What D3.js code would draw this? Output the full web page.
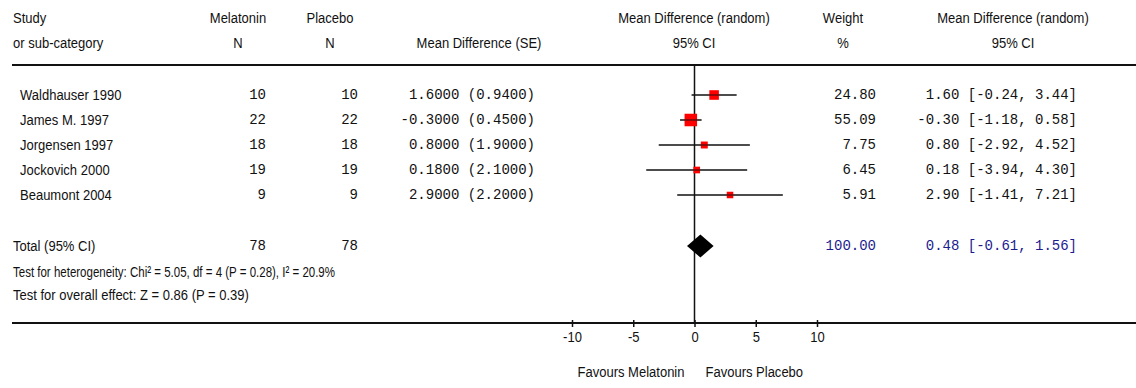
<!DOCTYPE html>
<html>
<head>
<meta charset="utf-8">
<script src="https://cdn.jsdelivr.net/npm/d3@7/dist/d3.min.js"></script>
<style>
  html, body { margin: 0; padding: 0; background: #fff; }
  svg { display: block; }
  .sans { font-family: "Liberation Sans Narrow", "Arial Narrow", "Liberation Sans", Arial, sans-serif; font-size: 15.5px; fill: #111; }
  .mono { font-family: "Liberation Mono", "Courier New", monospace; font-size: 14px; fill: #111; }
  .blue { fill: #1c1c8f; }
</style>
</head>
<body>
<svg id="chart" width="1136" height="388"></svg>
<script>
// Study-level data
const studies   = ["Waldhauser 1990", "James M. 1997", "Jorgensen 1997", "Jockovich 2000", "Beaumont 2004"];
const melatoninN = [10, 22, 18, 19, 9];
const placeboN   = [10, 22, 18, 19, 9];
const meanDiff   = [1.60, -0.30, 0.80, 0.18, 2.90];
const stdErr     = [0.94, 0.45, 1.90, 2.10, 2.20];
const weights    = [24.80, 55.09, 7.75, 6.45, 5.91];
const ciLow      = [-0.24, -1.18, -2.92, -3.94, -1.41];
const ciHigh     = [3.44, 0.58, 4.52, 4.30, 7.21];

// Pooled estimate
const totalMelN = 78, totalPlaN = 78;
const totalWeight = 100.00;
const totalMD = 0.48, totalLow = -0.61, totalHigh = 1.56;
const heterogeneityText = "Test for heterogeneity: Chi² = 5.05, df = 4 (P = 0.28), I² = 20.9%";
const overallText = "Test for overall effect: Z = 0.86 (P = 0.39)";

// Axis
const axisTicks = [-10, -5, 0, 5, 10];
const favourLeft = "Favours Melatonin", favourRight = "Favours Placebo";

const svg = d3.select("#chart");
const x = d3.scaleLinear().domain([-10, 10]).range([572, 817]);
const y = d3.scaleLinear().domain([0, 1]).range([95, 120]); // row index -> centre
const side = d3.scaleLinear().domain([0, 10]).range([3.6, 15.6]); // sqrt(weight) -> square side

const col = { study: 20, hdr: 13, mel: 266, melH: 238, pla: 358, plaH: 330, se: 535, seH: 479,
              plotH: 694, w: 876, wH: 843, ci: 1077, ciH: 1013 };
const ruleTop = 65, ruleBottom = 323;
const squeeze = 0.84; // horizontal condensing of the label face

function txt(cls, xp, yp, s, anchor) {
  const t = svg.append("text").attr("class", cls).attr("y", yp)
    .attr("text-anchor", anchor || "start").attr("dominant-baseline", "central").text(s);
  if (cls.indexOf("sans") >= 0) {
    t.attr("x", xp / squeeze).attr("transform", `scale(${squeeze},1)`);
  } else {
    t.attr("x", xp);
  }
  return t;
}

// Header
txt("sans", col.hdr, 18, "Study");
txt("sans", col.hdr, 43, "or sub-category");
txt("sans", col.melH, 18, "Melatonin", "middle");
txt("sans", col.melH, 43, "N", "middle");
txt("sans", col.plaH, 18, "Placebo", "middle");
txt("sans", col.plaH, 43, "N", "middle");
txt("sans", col.seH, 43, "Mean Difference (SE)", "middle");
txt("sans", col.plotH, 18, "Mean Difference (random)", "middle");
txt("sans", col.plotH, 43, "95% CI", "middle");
txt("sans", col.wH, 18, "Weight", "middle");
txt("sans", col.wH, 43, "%", "middle");
txt("sans", col.ciH, 18, "Mean Difference (random)", "middle");
txt("sans", col.ciH, 43, "95% CI", "middle");

// Rules
svg.append("line").attr("x1", 12).attr("x2", 1136).attr("y1", ruleTop).attr("y2", ruleTop)
  .attr("stroke", "#111").attr("stroke-width", 2);

// Zero line
svg.append("line").attr("x1", x(0)).attr("x2", x(0)).attr("y1", ruleTop + 1).attr("y2", ruleBottom)
  .attr("stroke", "#111").attr("stroke-width", 1.5);

// Study rows
studies.forEach((s, i) => {
  const yc = y(i);
  txt("sans", col.study, yc, s);
  txt("mono", col.mel, yc, String(melatoninN[i]), "end");
  txt("mono", col.pla, yc, String(placeboN[i]), "end");
  txt("mono", col.se, yc, `${meanDiff[i].toFixed(4)} (${stdErr[i].toFixed(4)})`, "end");
  txt("mono", col.w, yc, weights[i].toFixed(2), "end");
  txt("mono", col.ci, yc, `${meanDiff[i].toFixed(2)} [${ciLow[i].toFixed(2)}, ${ciHigh[i].toFixed(2)}]`, "end");

  svg.append("line").attr("x1", x(ciLow[i])).attr("x2", x(ciHigh[i])).attr("y1", yc).attr("y2", yc)
    .attr("stroke", "#111").attr("stroke-width", 1.5);
  const sd = side(Math.sqrt(weights[i]));
  svg.append("rect").attr("x", x(meanDiff[i]) - sd / 2).attr("y", yc - sd / 2)
    .attr("width", sd).attr("height", sd).attr("fill", "#ff0000");
  svg.append("line").attr("x1", Math.max(x(ciLow[i]), x(meanDiff[i]) - sd / 2))
    .attr("x2", Math.min(x(ciHigh[i]), x(meanDiff[i]) + sd / 2)).attr("y1", yc).attr("y2", yc)
    .attr("stroke", "#111").attr("stroke-width", 1.2).attr("opacity", 0.8);
});

// Total row
const yT = 246;
txt("sans", col.hdr, yT, "Total (95% CI)");
txt("mono", col.mel, yT, String(totalMelN), "end");
txt("mono", col.pla, yT, String(totalPlaN), "end");
txt("mono blue", col.w, yT, totalWeight.toFixed(2), "end");
txt("mono blue", col.ci, yT, `${totalMD.toFixed(2)} [${totalLow.toFixed(2)}, ${totalHigh.toFixed(2)}]`, "end");
svg.append("path")
  .attr("d", `M${x(totalLow)},${yT} L${x(totalMD)},${yT - 11.5} L${x(totalHigh)},${yT} L${x(totalMD)},${yT + 11.5} Z`)
  .attr("fill", "#000");

txt("sans", col.hdr, 272, heterogeneityText)
  .attr("textLength", 322 / squeeze).attr("lengthAdjust", "spacingAndGlyphs");
txt("sans", col.hdr, 295, overallText);

// Bottom rule / axis
svg.append("line").attr("x1", 12).attr("x2", 1136).attr("y1", ruleBottom).attr("y2", ruleBottom)
  .attr("stroke", "#111").attr("stroke-width", 2);

const axisG = svg.append("g").attr("transform", `translate(0,${ruleBottom})`)
  .call(d3.axisBottom(x).tickValues(axisTicks).tickSize(4).tickPadding(6).tickFormat(d => String(d)));
axisG.attr("font-family", null).attr("font-size", null);
axisG.select(".domain").remove();
axisG.selectAll(".tick line").attr("y1", -3).attr("y2", 4).attr("stroke", "#111").attr("stroke-width", 1.5);
axisG.selectAll(".tick text").attr("class", "sans").attr("fill", "#111")
  .attr("transform", `scale(${squeeze},1)`).attr("dy", "0.6em");

txt("sans", x(0) - 10, 372, favourLeft, "end");
txt("sans", x(0) + 11, 372, favourRight, "start");
</script>
</body>
</html>
